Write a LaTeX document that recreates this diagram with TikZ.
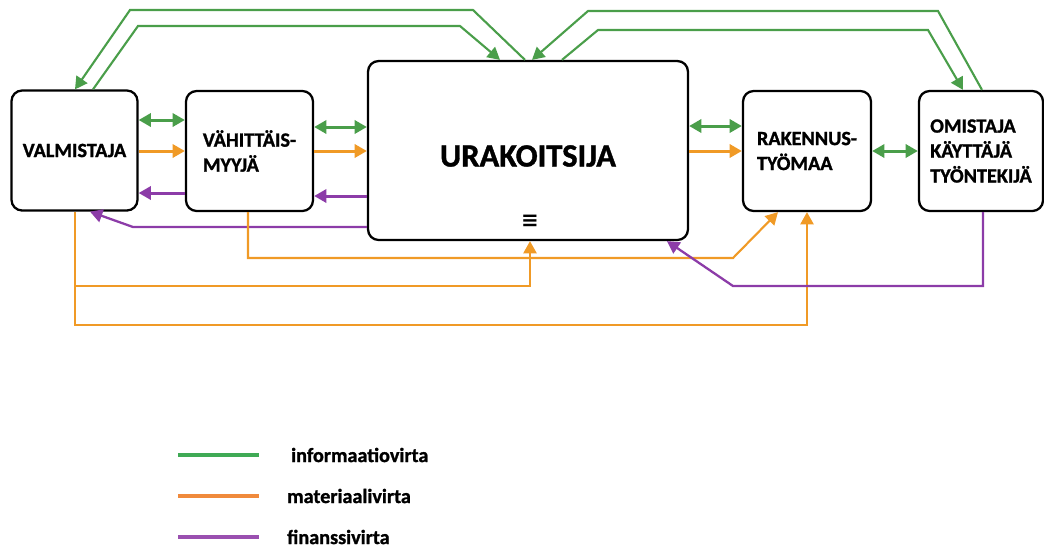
\documentclass[tikz,border=0pt]{standalone}
\usepackage{fontspec}
\setmainfont{Carlito}[BoldFeatures={FakeBold=1.2}]
\newfontfamily\symfont{DejaVu Sans}
\usetikzlibrary{arrows.meta}

\definecolor{infogreen}{HTML}{4A9E4A}
\definecolor{matorange}{HTML}{F09A26}
\definecolor{finpurple}{HTML}{8C3CA8}
\definecolor{leggreen}{HTML}{3FAA55}
\definecolor{legorange}{HTML}{F08A3C}
\definecolor{legpurple}{HTML}{9A50B0}

\begin{document}
\begin{tikzpicture}[x=0.02cm,y=-0.02cm,
  >={Triangle[length=7pt 0 0,width=7.5pt 0 0]},
  box/.style={draw, line width=1.3pt, rounded corners=6pt, fill=white,
    minimum height=2.4cm, inner sep=0pt, align=left,
    font=\bfseries\fontsize{11.5}{14.2}\selectfont},
  info/.style={draw=infogreen, line width=1.7pt},
  mat/.style={draw=matorange, line width=1.7pt},
  fin/.style={draw=finpurple, line width=1.7pt},
  infolong/.style={draw=infogreen, line width=1.2pt},
  matlong/.style={draw=matorange, line width=1.2pt},
  finlong/.style={draw=finpurple, line width=1.3pt},
  legline/.style={line width=1.8pt},
  legtext/.style={anchor=west, font=\bfseries\fontsize{11.5}{14}\selectfont}
]
\useasboundingbox (0,0) rectangle (1044,549);

% actors
\node[box, minimum width=2.52cm] (vm) at (74.5,150.5) {VALMISTAJA};
\node[box, minimum width=2.54cm] (vh) at (249.5,151) {VÄHITTÄIS-\\MYYJÄ};
\node[box, minimum width=6.4cm, minimum height=3.58cm] (ur) at (528,150.5) {};
\node[font=\bfseries\fontsize{18.5}{22}\selectfont] (urtitle) at (528,156) {URAKOITSIJA};
\node[font=\symfont\bfseries\fontsize{12}{14}\selectfont, inner sep=0pt] (urmenu) at (530,221) {≡};
\node[box, minimum width=2.56cm] (rk) at (807,151) {RAKENNUS-\\TYÖMAA};
\node[box, minimum width=2.48cm] (om) at (981,151) {OMISTAJA\\KÄYTTÄJÄ\\TYÖNTEKIJÄ};

% information flows between neighbours
\draw[info, <->] (vm.east |- 0,120) -- (vh.west |- 0,120);
\draw[info, <->] (vh.east |- 0,127) -- (ur.west |- 0,127);
\draw[info, <->] (ur.east |- 0,126) -- (rk.west |- 0,126);
\draw[info, <->] (rk.east |- 0,151) -- (om.west |- 0,151);

% material flows between neighbours
\draw[mat, ->] (vm.east |- 0,151) -- (vh.west |- 0,151);
\draw[mat, ->] (vh.east |- 0,151) -- (ur.west |- 0,151);
\draw[mat, ->] (ur.east |- 0,151) -- (rk.west |- 0,151);

% financial flows between neighbours
\draw[fin, ->] (vh.west |- 0,193) -- (vm.east |- 0,193);
\draw[fin, ->] (ur.west |- 0,196) -- (vh.east |- 0,196);
\draw[finlong, ->] (ur.west |- 0,227) -- (133,227) -- (90,0 |- vm.south);

% information flows over the top
\draw[infolong, ->] (525,0 |- ur.north) -- (473,10) -- (130,10) -- (75,0 |- vm.north);
\draw[infolong, ->] (93,0 |- vm.north) -- (138,26) -- (460,26) -- (500,0 |- ur.north);
\draw[infolong, ->] (982,0 |- om.north) -- (938,11) -- (588,11) -- (532,0 |- ur.north);
\draw[infolong, ->] (562,0 |- ur.north) -- (598,30) -- (928,30) -- (963,0 |- om.north);

% material flows underneath
\draw[matlong, ->] (248,0 |- vh.south) -- (248,258) -- (733,258) -- (778,0 |- rk.south);
\draw[matlong, ->] (75,0 |- vm.south) -- (75,325) -- (807,325) -- (807,0 |- rk.south);
\draw[matlong, ->] (75,286) -- (530,286) -- (530,0 |- ur.south);

% payment from the owner
\draw[finlong, ->] (983,0 |- om.south) -- (983,286) -- (733,286) -- (667,0 |- ur.south);

% legend
\draw[legline, leggreen] (178,455) -- (259,455);
\node[legtext] (leginfo) at (285,455) {informaatiovirta};
\draw[legline, legorange] (178,496) -- (259,496);
\node[legtext] (legmat) at (281,496) {materiaalivirta};
\draw[legline, legpurple] (178,537) -- (259,537);
\node[legtext] (legfin) at (281,537) {finanssivirta};
\end{tikzpicture}
\end{document}
